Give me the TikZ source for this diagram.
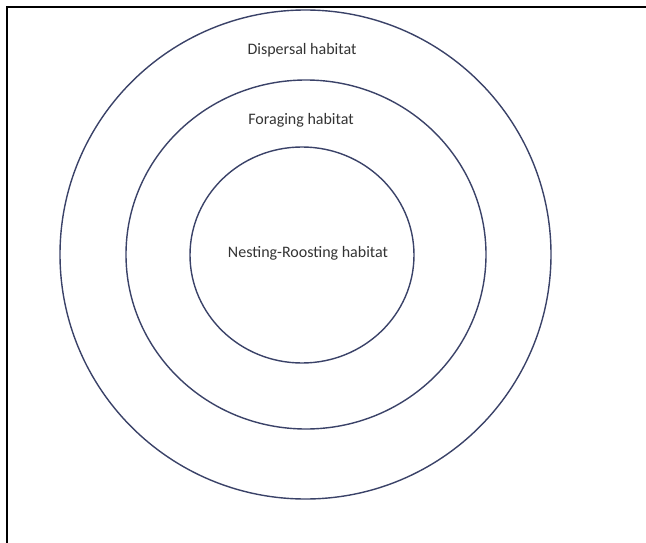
\documentclass[tikz,border=0pt]{standalone}
\usepackage{fontspec}
\setmainfont{Carlito}
\usepackage{tikz}
\definecolor{ringblue}{RGB}{58,66,104}

\begin{document}
\begin{tikzpicture}[x=1pt,y=-1pt,
  ring/.style={draw=ringblue,line width=1.4pt},
  label/.style={font=\fontsize{16}{18}\selectfont,text=black!80}]
\useasboundingbox (0,0) rectangle (646,543);
\draw[line width=2pt] (646,7) -- (7,7) -- (7,543);
\foreach \cx/\cy/\rx/\ry in {305.5/254.5/245.5/244.5, 306/254.5/180/174.5, 302/255/112/108}
\draw[ring] (\cx,\cy) ellipse [x radius=\rx, y radius=\ry];
\node[label] (dispersal) at (302,50) {Dispersal habitat};
\node[label] (foraging) at (301,120) {Foraging habitat};
\node[label] (nesting) at (308,253) {Nesting-Roosting habitat};
\end{tikzpicture}
\end{document}
